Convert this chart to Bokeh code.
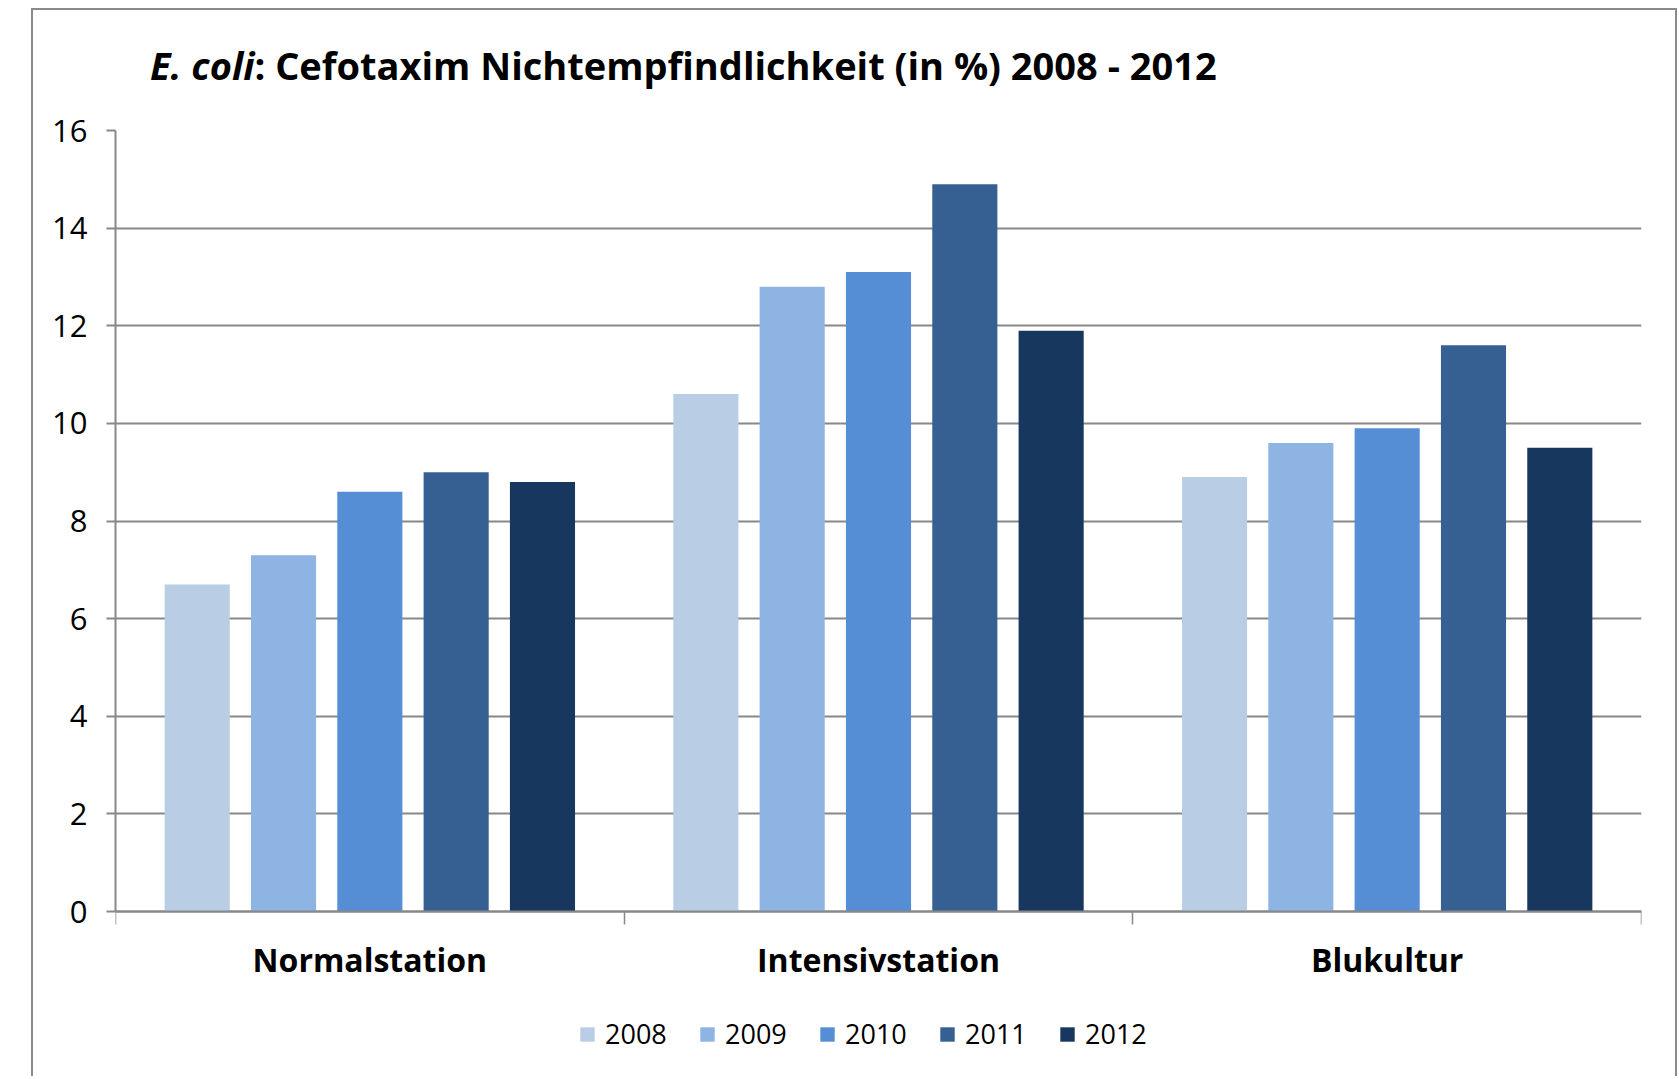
from bokeh.plotting import figure
from bokeh.models import ColumnDataSource, Range1d, FixedTicker, Legend, LegendItem, Div
from bokeh.layouts import column
from bokeh.transform import dodge
from bokeh.embed import file_html
from bokeh.resources import INLINE

# ---- data ----
categories = ["Normalstation", "Intensivstation", "Blukultur"]
years = ["2008", "2009", "2010", "2011", "2012"]
v2008 = [6.7, 10.6, 8.9]
v2009 = [7.3, 12.8, 9.6]
v2010 = [8.6, 13.1, 9.9]
v2011 = [9.0, 14.9, 11.6]
v2012 = [8.8, 11.9, 9.5]
y_ticks = [0, 2, 4, 6, 8, 10, 12, 14, 16]
title_italic = "E. coli"
title_rest = ": Cefotaxim Nichtempfindlichkeit (in %) 2008 - 2012"

# ---- styles / layout ----
colors = ["#B9CDE5", "#8EB4E3", "#558ED5", "#376092", "#17375E"]
FONT = "Open Sans"
GRAY = "#888888"
STEP = 0.1697
BAR_W = 0.128
Y_MAX = 16
FRAME_H = 936          # frame spans from the 16-gridline down to the legend row
AXIS_PX = 781          # pixels between 0 and 16
y_start = Y_MAX - FRAME_H * Y_MAX / AXIS_PX

centers = [i + 0.5 for i in range(len(categories))]
src = ColumnDataSource(dict(x=centers, cat=categories,
                            y2008=v2008, y2009=v2009, y2010=v2010,
                            y2011=v2011, y2012=v2012))

title_div = Div(
    text=('<div style="font-family:\'Open Sans\';font-weight:bold;font-size:38px;'
          'line-height:40px;color:#000;white-space:nowrap;padding-left:117px;padding-top:35px;">'
          '<span style="font-style:italic">%s</span>%s</div>') % (title_italic, title_rest),
    width=1642, height=100, margin=0)

p = figure(width=1642, height=966,
           x_range=Range1d(0, len(categories)), y_range=Range1d(y_start, Y_MAX),
           output_backend="svg", toolbar_location=None,
           min_border_left=82, min_border_right=34,
           min_border_top=20, min_border_bottom=10, margin=0)
p.outline_line_color = None
p.background_fill_color = "white"
p.border_fill_color = "white"

p.xgrid.visible = False
p.ygrid.grid_line_color = GRAY
p.ygrid.grid_line_width = 2

# y axis
p.yaxis.ticker = FixedTicker(ticks=y_ticks)
p.yaxis.bounds = (0, Y_MAX)
p.yaxis.axis_line_color = GRAY
p.yaxis.axis_line_width = 2
p.yaxis.major_tick_line_color = GRAY
p.yaxis.major_tick_line_width = 2
p.yaxis.major_tick_out = 9
p.yaxis.major_tick_in = 0
p.yaxis.minor_tick_line_color = None
p.yaxis.major_label_standoff = 19
p.yaxis.major_label_text_font = FONT
p.yaxis.major_label_text_font_size = "31px"
p.yaxis.major_label_text_color = "#000000"

# x axis (sits at y = 0)
p.xaxis.fixed_location = 0
p.xaxis.ticker = FixedTicker(ticks=centers, minor_ticks=list(range(len(categories) + 1)))
p.xaxis.major_label_overrides = {c: n for c, n in zip(centers, categories)}
p.xaxis.axis_line_color = GRAY
p.xaxis.axis_line_width = 2
p.xaxis.major_tick_line_color = None
p.xaxis.major_tick_out = 0
p.xaxis.major_tick_in = 0
p.xaxis.minor_tick_line_color = GRAY
p.xaxis.minor_tick_line_width = 1.5
p.xaxis.minor_tick_out = 13
p.xaxis.minor_tick_in = 0
p.xaxis.major_label_standoff = 13
p.xaxis.major_label_text_font = FONT
p.xaxis.major_label_text_font_size = "32px"
p.xaxis.major_label_text_font_style = "bold"
p.xaxis.major_label_text_color = "#000000"

items = []
for j, yr in enumerate(years):
    r = p.vbar(x=dodge("x", (j - 2) * STEP), top="y" + yr, width=BAR_W,
               source=src, fill_color=colors[j], line_color=None)
    items.append(LegendItem(label=yr, renderers=[r]))

legend = Legend(items=items, orientation="horizontal", location=(463, 14),
                glyph_width=18, glyph_height=18, label_standoff=9, spacing=28,
                padding=0, margin=0, border_line_color=None,
                background_fill_alpha=0, label_width=65,
                label_text_font=FONT, label_text_font_size="27px",
                label_text_color="#000000")
p.add_layout(legend)

layout = column(title_div, p, spacing=0, margin=(8, 0, 0, 31),
                styles={"border-left": "2px solid #8a8a8a",
                        "border-top": "2px solid #8a8a8a",
                        "border-right": "2px solid #8a8a8a",
                        "background-color": "white"})

open("out.html", "w").write(file_html(layout, INLINE))
